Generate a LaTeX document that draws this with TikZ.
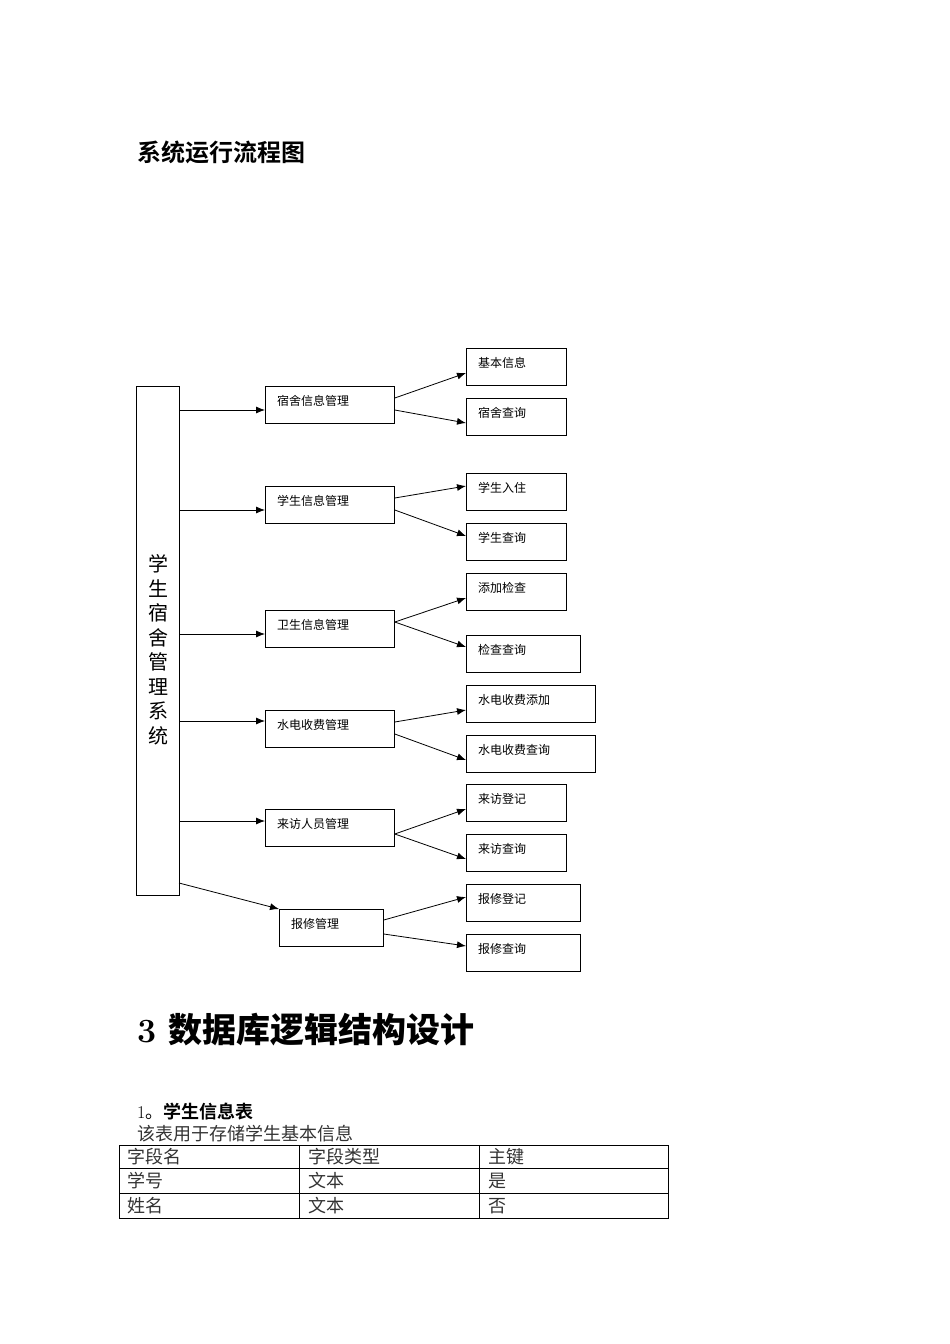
\documentclass[tikz,border=0pt]{standalone}
\usepackage{fontspec}
\newfontfamily\cjk{Noto Sans CJK SC}
\newfontfamily\cjkb{Noto Sans CJK SC Bold}
\usetikzlibrary{arrows.meta}
\begin{document}
\begin{tikzpicture}[x=1pt,y=-1pt,
  bx/.style={draw,line width=0.8pt,anchor=north west,inner sep=0pt},
  lbl/.style={anchor=west,font=\cjk\fontsize{12}{12}\selectfont,inner sep=0pt},
  arr/.style={-{Latex[length=9pt,width=7pt]},line width=0.8pt}]
\useasboundingbox (0,0) rectangle (950,1344);
\node[anchor=west,inner sep=0pt,font=\cjkb\fontsize{24}{24}\selectfont] (t1) at (137,152) {系统运行流程图};
% main
\node[bx,minimum width=43pt,minimum height=509pt] (m) at (136,386) {};
\node[align=center,font=\cjk\fontsize{20}{24.5}\selectfont,inner sep=0pt] (mt) at (158,650) {学\\生\\宿\\舍\\管\\理\\系\\统};
% mid boxes
\foreach \n/\x/\y/\w/\t in {a/265/386/129/宿舍信息管理,b/265/486/129/学生信息管理,c/265/610/129/卫生信息管理,d/265/710/129/水电收费管理,e/265/809/129/来访人员管理,f/279/909/104/报修管理}{
  \node[bx,minimum width=\w pt,minimum height=37pt] (\n) at (\x,\y) {};
  \node[lbl] (\n t) at (\x+12,\y+15) {\t};
}
% leaves
\foreach \n/\y/\w/\t in {a1/348/100/基本信息,a2/398/100/宿舍查询,b1/473/100/学生入住,b2/523/100/学生查询,c1/573/100/添加检查,c2/635/114/检查查询,d1/685/129/水电收费添加,d2/735/129/水电收费查询,e1/784/100/来访登记,e2/834/100/来访查询,f1/884/114/报修登记,f2/934/114/报修查询}{
  \node[bx,minimum width=\w pt,minimum height=37pt] (\n) at (466,\y) {};
  \node[lbl] (\n t) at (478,\y+15) {\t};
}
% main to mid
\foreach \n/\y in {a/410,b/510,c/634,d/721,e/821}{
  \coordinate (s\n) at (179,\y);
  \draw[arr] (s\n) -- (\n.west |- s\n);
}
\coordinate (sf) at (179,883);
\draw[arr] (sf) -- (f.north west);
% mid to leaves
\foreach \n/\ya/\yb/\yc/\yd in {a/398/373/410/423,b/498/486/510/536,c/622/598/622/647,d/722/710/734/760,e/834/809/834/859,f/920/897/934/946}{
  \coordinate (p\n1) at (\n.east |- 0,\ya);
  \coordinate (p\n2) at (\n.east |- 0,\yc);
  \draw[arr] (p\n1) -- (\n1.west |- 0,\yb);
  \draw[arr] (p\n2) -- (\n2.west |- 0,\yd);
}
% headings
\node[anchor=west,inner sep=0pt,font=\fontsize{34}{34}\selectfont\bfseries] (h3) at (137,1030) {3\hspace{12pt}{\cjkb 数据库逻辑结构设计}};
\node[anchor=west,inner sep=0pt,font=\fontsize{18}{18}\selectfont] (h4) at (137,1112) {1{\cjk 。}{\cjkb 学生信息表}};
\node[anchor=west,inner sep=0pt,font=\cjk\fontsize{18}{18}\selectfont,text=black!80] (h5) at (137,1134) {该表用于存储学生基本信息};
% table
\coordinate (tl) at (119,1145); \coordinate (br) at (668,1218);
\draw[line width=0.8pt] (tl) rectangle (br);
\draw[line width=0.8pt] (119,1168) -- (668,1168) (119,1193) -- (668,1193) (299,1145) -- (299,1218) (479,1145) -- (479,1218);
\foreach \r/\y/\a/\b/\c in {1/1157/字段名/字段类型/主键,2/1181/学号/文本/是,3/1206/姓名/文本/否}{
  \node[anchor=west,inner sep=0pt,font=\cjk\fontsize{18}{18}\selectfont,text=black!80] (c\r a) at (127,\y) {\a};
  \node[anchor=west,inner sep=0pt,font=\cjk\fontsize{18}{18}\selectfont,text=black!80] (c\r b) at (308,\y) {\b};
  \node[anchor=west,inner sep=0pt,font=\cjk\fontsize{18}{18}\selectfont,text=black!80] (c\r c) at (488,\y) {\c};
}
\end{tikzpicture}
\end{document}
